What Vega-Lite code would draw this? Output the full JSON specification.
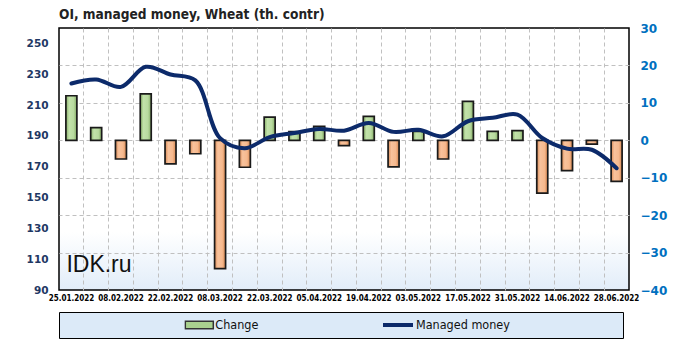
{
  "$schema": "https://vega.github.io/schema/vega-lite/v6.json",
  "width": 570,
  "height": 262,
  "autosize": {"type": "none"},
  "padding": {"left": 59, "top": 28, "right": 53, "bottom": 51},
  "background": "#ffffff",
  "config": {
    "view": {
      "stroke": "#000000",
      "strokeWidth": 1.5,
      "fill": {"gradient": "linear", "x1": 0, "y1": 0, "x2": 0, "y2": 1, "stops": [{"offset": 0, "color": "#ffffff"}, {"offset": 0.78, "color": "#ffffff"}, {"offset": 1, "color": "#E2EDF9"}]}
    }
  },
  "title": {
    "text": "OI, managed money, Wheat (th. contr)",
    "anchor": "start",
    "frame": "group",
    "font": "DejaVu Sans Condensed, DejaVu Sans",
    "fontSize": 13.6,
    "fontWeight": "bold",
    "color": "#222222",
    "offset": 0
  },
  "data": {
    "values": [
      {"date": "25.01.2022", "change": 11.9, "mm": 224.0},
      {"date": "01.02.2022", "change": 3.4, "mm": 226.6},
      {"date": "08.02.2022", "change": -5.0, "mm": 221.8},
      {"date": "15.02.2022", "change": 12.4, "mm": 234.8},
      {"date": "22.02.2022", "change": -6.3, "mm": 229.8},
      {"date": "01.03.2022", "change": -3.6, "mm": 226.0},
      {"date": "08.03.2022", "change": -34.3, "mm": 188.5},
      {"date": "15.03.2022", "change": -7.2, "mm": 182.0},
      {"date": "22.03.2022", "change": 6.2, "mm": 189.2},
      {"date": "29.03.2022", "change": 2.3, "mm": 191.9},
      {"date": "05.04.2022", "change": 3.7, "mm": 194.5},
      {"date": "12.04.2022", "change": -1.4, "mm": 193.4},
      {"date": "19.04.2022", "change": 6.4, "mm": 198.4},
      {"date": "26.04.2022", "change": -7.1, "mm": 192.6},
      {"date": "03.05.2022", "change": 2.4, "mm": 194.0},
      {"date": "10.05.2022", "change": -5.0, "mm": 189.7},
      {"date": "17.05.2022", "change": 10.4, "mm": 199.5},
      {"date": "24.05.2022", "change": 2.4, "mm": 201.7},
      {"date": "31.05.2022", "change": 2.6, "mm": 203.8},
      {"date": "07.06.2022", "change": -14.1, "mm": 188.6},
      {"date": "14.06.2022", "change": -8.1, "mm": 181.7},
      {"date": "21.06.2022", "change": -1.0, "mm": 181.0},
      {"date": "28.06.2022", "change": -11.0, "mm": 169.0}
    ]
  },
  "encoding": {
    "x": {
      "field": "date",
      "type": "nominal",
      "sort": null,
      "scale": {
        "type": "band",
        "paddingInner": 0,
        "paddingOuter": 0,
        "domain": ["25.01.2022", "01.02.2022", "08.02.2022", "15.02.2022", "22.02.2022", "01.03.2022", "08.03.2022", "15.03.2022", "22.03.2022", "29.03.2022", "05.04.2022", "12.04.2022", "19.04.2022", "26.04.2022", "03.05.2022", "10.05.2022", "17.05.2022", "24.05.2022", "31.05.2022", "07.06.2022", "14.06.2022", "21.06.2022", "28.06.2022"]
      },
      "axis": {
        "bandPosition": 0,
        "grid": true,
        "gridDash": [4, 3],
        "gridWidth": 1,
        "gridColor": {"condition": {"test": "datum.value === '25.01.2022'", "value": "transparent"}, "value": "#C0C0C0"},
        "ticks": false,
        "domain": false,
        "labelAngle": 0,
        "labelOffset": 0,
        "labelFont": "DejaVu Sans Condensed, DejaVu Sans",
        "labelFontSize": 8,
        "labelFontWeight": "bold",
        "labelColor": "#000000",
        "labelPadding": 4,
        "labelOverlap": false,
        "labelBound": false,
        "labelExpr": "indexof(['01.02.2022','15.02.2022','01.03.2022','15.03.2022','29.03.2022','12.04.2022','26.04.2022','10.05.2022','24.05.2022','07.06.2022','21.06.2022'], datum.value) >= 0 ? '' : datum.value",
        "title": null
      }
    }
  },
  "layer": [
    {
      "mark": {"type": "bar", "size": 11, "stroke": "#1A1A1A", "strokeWidth": 1.7},
      "encoding": {
        "y": {
          "field": "change",
          "type": "quantitative",
          "scale": {"domain": [-40, 30], "nice": false, "zero": true},
          "axis": {
            "orient": "right",
            "values": [-40, -30, -20, -10, 0, 10, 20, 30],
            "grid": true,
            "gridDash": [4, 3],
            "gridWidth": 1,
            "gridColor": {"condition": {"test": "datum.value === 30 || datum.value === -40", "value": "transparent"}, "value": "#C0C0C0"},
            "ticks": false,
            "domain": false,
            "labelOverlap": false,
            "labelColor": "#0070C0",
            "labelFont": "DejaVu Sans",
            "labelFontWeight": "bold",
            "labelFontSize": 12,
            "labelPadding": 11,
            "title": null
          }
        },
        "fill": {
          "condition": [
            {
              "test": "datum.change < 0",
              "value": {"gradient": "linear", "x1": 0, "y1": 0, "x2": 1, "y2": 0, "stops": [{"offset": 0, "color": "#D98A55"}, {"offset": 0.3, "color": "#F8C29C"}, {"offset": 0.7, "color": "#F6B98E"}, {"offset": 1, "color": "#D4844E"}]}
            },
            {
              "test": "datum.change >= 0",
              "value": {"gradient": "linear", "x1": 0, "y1": 0, "x2": 1, "y2": 0, "stops": [{"offset": 0, "color": "#87AE68"}, {"offset": 0.3, "color": "#C2E2AA"}, {"offset": 0.7, "color": "#B8DA9F"}, {"offset": 1, "color": "#82A963"}]}
            }
          ],
          "datum": "Change",
          "scale": {"domain": ["Change"], "range": ["#A9D18E"]},
          "legend": {
            "orient": "none",
            "legendX": 125.3,
            "legendY": 290,
            "zindex": 1,
            "direction": "horizontal",
            "title": null,
            "padding": 0,
            "clipHeight": 14,
            "symbolOffset": 0,
            "labelOffset": 1,
            "labelLimit": 0,
            "labelFont": "DejaVu Sans Condensed, DejaVu Sans",
            "labelFontSize": 12.5,
            "labelColor": "#111111",
            "symbolType": "M-1,-0.27H1V0.27H-1Z",
            "symbolSize": 784,
            "symbolStrokeColor": "#333333",
            "symbolStrokeWidth": 1.5,
            "symbolOpacity": 1
          }
        }
      }
    },
    {
      "layer": [
        {
          "mark": {"type": "line", "interpolate": "catmull-rom", "strokeWidth": 4, "strokeCap": "round"},
          "encoding": {
            "y": {
              "field": "mm",
              "type": "quantitative",
              "scale": {"domain": [90, 260], "nice": false, "zero": false},
              "axis": {
                "orient": "left",
                "values": [90, 110, 130, 150, 170, 190, 210, 230, 250],
                "grid": false,
                "ticks": false,
                "domain": false,
                "labelOverlap": false,
                "labelColor": "#1F3864",
                "labelFont": "DejaVu Sans",
                "labelFontWeight": "bold",
                "labelFontSize": 10.5,
                "labelPadding": 11,
                "title": null
              }
            },
            "stroke": {
              "datum": "Managed money",
              "scale": {"domain": ["Managed money"], "range": ["#0C2A6A"]},
              "legend": {
                "orient": "none",
                "legendX": 0,
                "legendY": 284,
                "zindex": 0,
                "direction": "horizontal",
                "title": null,
                "padding": 6,
                "clipHeight": 14,
                "symbolOffset": 316,
                "labelOffset": 1,
                "labelLimit": 0,
                "labelFont": "DejaVu Sans Condensed, DejaVu Sans",
                "labelFontSize": 12.5,
                "labelColor": "#111111",
                "strokeColor": "#000000",
                "fillColor": "#DCEAF8",
                "symbolType": "stroke",
                "symbolSize": 900,
                "symbolStrokeWidth": 4,
                "symbolOpacity": 1,
                "labelExpr": "datum.label + '\u2003\u2003\u2003\u2003\u2003\u2003\u2003\u2003\u2003\u2002\u200b'"
              }
            }
          }
        },
        {
          "data": {"values": [{"label": "IDK.ru"}]},
          "mark": {"type": "text", "align": "left", "baseline": "alphabetic", "font": "Liberation Sans", "fontSize": 23, "color": "#111111", "dx": -5},
          "encoding": {
            "x": {"datum": "25.01.2022"},
            "y": {
              "datum": 102,
              "axis": {
                "orient": "left",
                "values": [90, 110, 130, 150, 170, 190, 210, 230, 250],
                "grid": false,
                "ticks": false,
                "domain": false,
                "labelOverlap": false,
                "labelColor": "#1F3864",
                "labelFont": "DejaVu Sans",
                "labelFontWeight": "bold",
                "labelFontSize": 10.5,
                "labelPadding": 11,
                "title": null
              }
            },
            "text": {"field": "label"}
          }
        }
      ]
    }
  ],
  "resolve": {"scale": {"y": "independent"}}
}
